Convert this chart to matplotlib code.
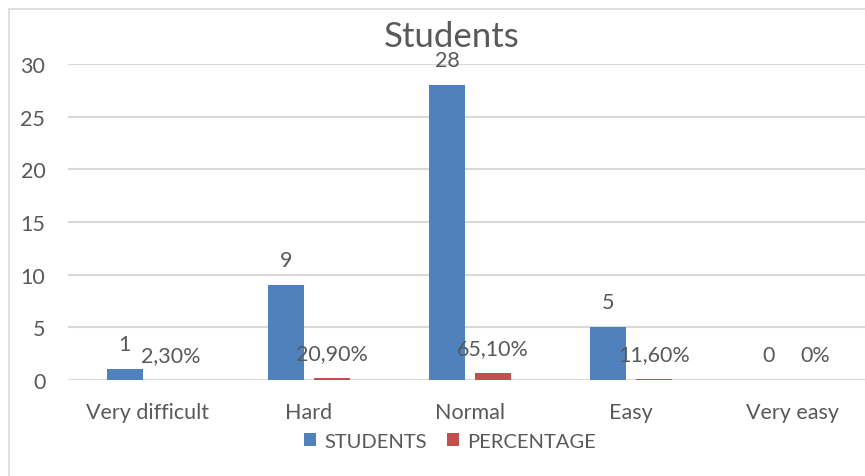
"""
Bar chart of how students rated the difficulty, with the share of each answer
drawn next to the head count.
"""

import matplotlib

matplotlib.use("Agg")
import matplotlib.pyplot as plt
import numpy as np
from matplotlib.patches import Rectangle

plt.rcParams["font.family"] = ["Lato", "DejaVu Sans"]

CATEGORIES = ["Very difficult", "Hard", "Normal", "Easy", "Very easy"]
STUDENTS = [1, 9, 28, 5, 0]
PERCENTAGE = [0.023, 0.209, 0.651, 0.116, 0.0]

BLUE = "#4F81BD"
RED = "#C0504D"
TEXT = "#595959"
GRID = "#D9D9D9"


def _pct(v):
    # comma decimal separator, two decimals (0 stays plain "0%")
    if v == 0:
        return "0%"
    return f"{v * 100:.2f}%".replace(".", ",")


def plot_students(name="out.png"):
    fig = plt.figure(figsize=(8.65, 4.77), dpi=100)
    ax = fig.add_axes([67.5 / 865, 96 / 477, 805 / 865, 316 / 477])

    # chart frame (only the top/left edges fall inside the image)
    fig.patches.append(Rectangle((9 / 865, -0.05), 1.2, 467 / 477 + 0.05,
                                 transform=fig.transFigure, fill=False,
                                 edgecolor=GRID, linewidth=1.2))

    x = np.arange(len(CATEGORIES))
    width = 0.224
    off = 0.143
    ax.bar(x - off, STUDENTS, width, color=BLUE, label="STUDENTS", zorder=3)
    ax.bar(x + off, PERCENTAGE, width, color=RED, label="PERCENTAGE", zorder=3)

    for xi, v in zip(x, STUDENTS):
        ax.annotate(str(v), (xi - off, v), xytext=(0, 18), textcoords="offset points",
                    ha="center", va="center", fontsize=15.5, color=TEXT)
    for xi, v in zip(x, PERCENTAGE):
        ax.annotate(_pct(v), (xi + off, v), xytext=(0, 18), textcoords="offset points",
                    ha="center", va="center", fontsize=15.5, color=TEXT)

    ax.set_xlim(-0.5, len(CATEGORIES) - 0.5)
    ax.set_ylim(0, 30)
    ax.set_yticks(range(0, 31, 5))
    ax.set_xticks(x)
    ax.set_xticklabels(CATEGORIES)
    ax.tick_params(length=0, labelsize=15.5, colors=TEXT)
    ax.tick_params(axis="y", pad=16)
    ax.tick_params(axis="x", pad=16)
    ax.grid(axis="y", color=GRID, linewidth=1.5, zorder=0)
    for s in ax.spines.values():
        s.set_visible(False)

    fig.text(452 / 865, 1 - 37 / 477, "Students", ha="center", va="center",
             fontsize=25, color=TEXT)
    fig.legend(loc="center", bbox_to_anchor=(450 / 865, 1 - 442 / 477), ncol=2,
               frameon=False, fontsize=14.5, labelcolor=TEXT, handlelength=0.6,
               handleheight=0.6, handletextpad=0.4, columnspacing=1.0)

    fig.savefig(name, dpi=100)
    plt.close(fig)
    return name


if __name__ == "__main__":
    plot_students()
